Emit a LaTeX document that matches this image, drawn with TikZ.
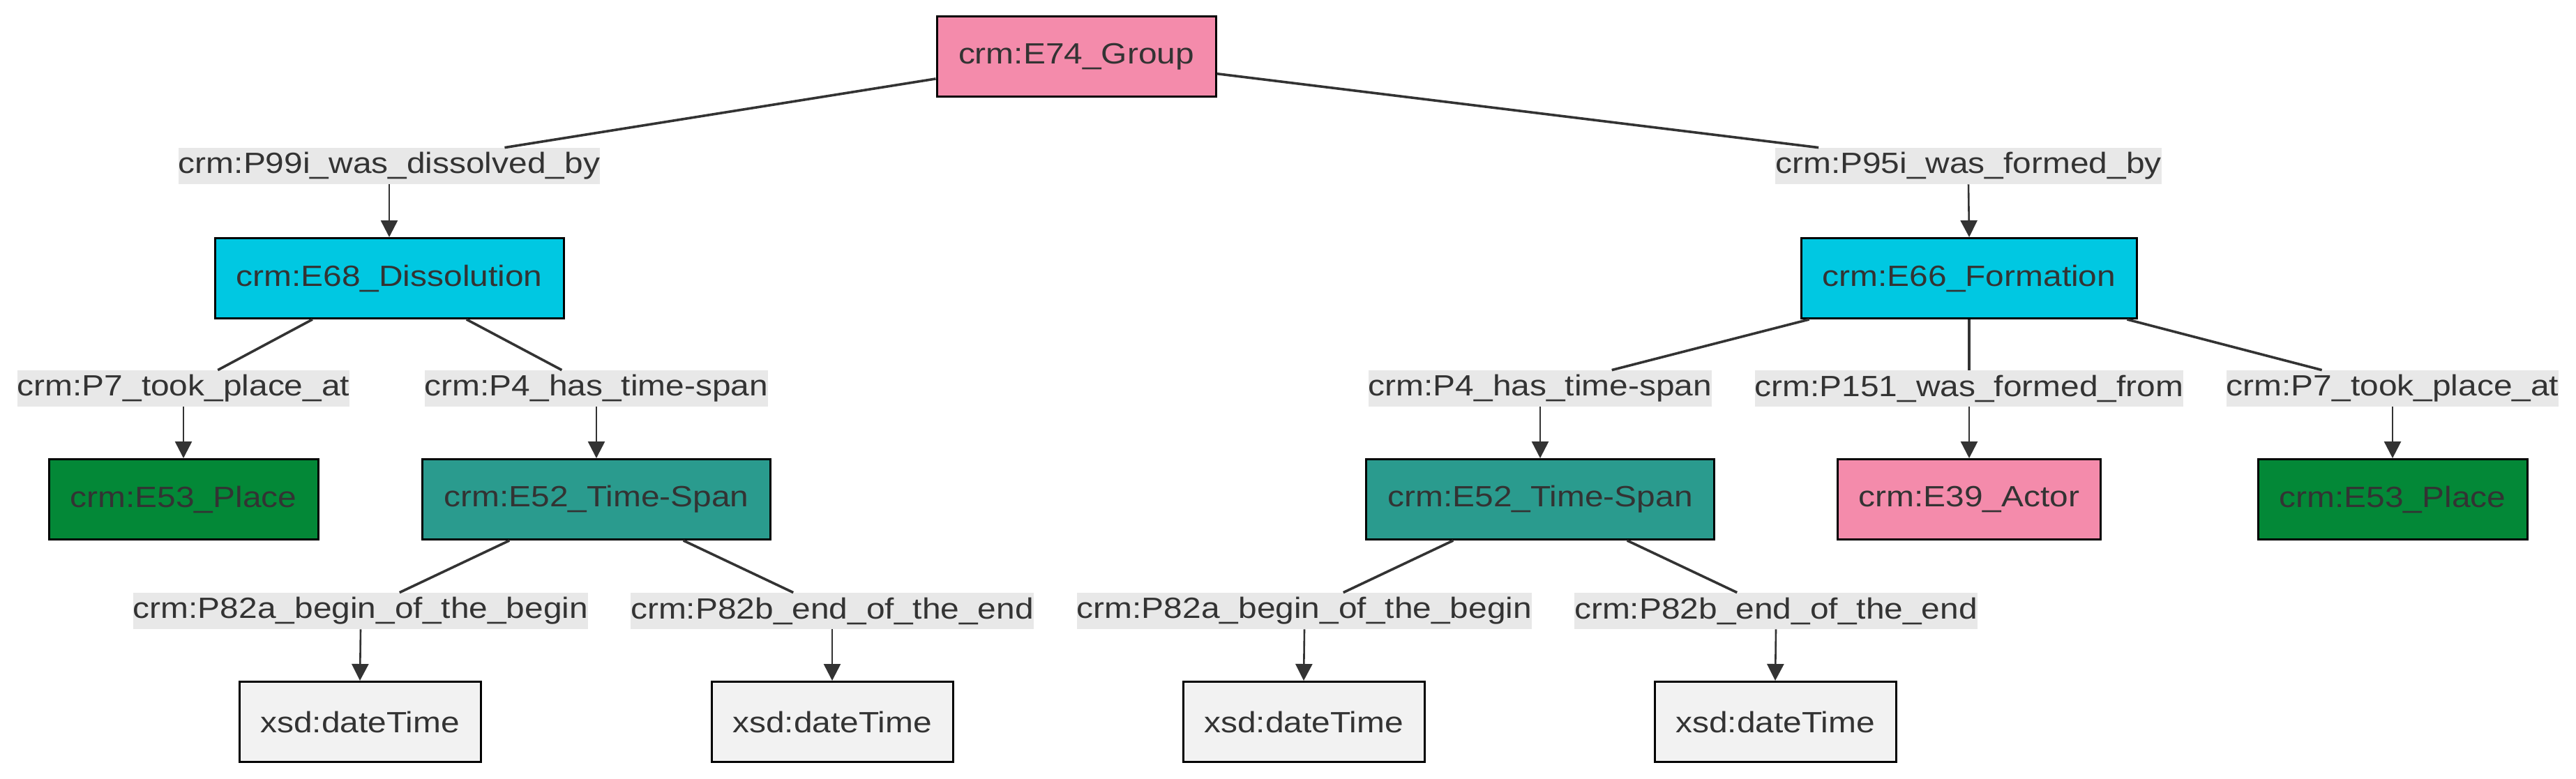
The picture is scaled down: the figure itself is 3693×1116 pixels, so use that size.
\documentclass[tikz,border=0pt]{standalone}
\usepackage{fontspec}
\setmainfont[FakeStretch=1.14]{Liberation Sans}
\usetikzlibrary{arrows.meta}
\definecolor{txt}{HTML}{333333}
\definecolor{pinkc}{HTML}{F48BAB}
\definecolor{cyanc}{HTML}{00C8E2}
\definecolor{tealc}{HTML}{2A9B8E}
\definecolor{greenc}{HTML}{038837}
\definecolor{greyc}{HTML}{F2F2F2}
\definecolor{lblc}{HTML}{E8E8E8}
\tikzset{
  box/.style={draw=black, line width=1.5pt, text=txt, minimum height=57.5pt, inner sep=0pt,
    font=\fontsize{21pt}{25pt}\selectfont},
  lbl/.style={fill=lblc, text=txt, inner sep=0pt, minimum height=26pt,
    font=\fontsize{21pt}{25pt}\selectfont},
  edge/.style={draw=txt, line width=1.8pt},
  arr/.style={draw=txt, line width=1.3pt, -{Triangle[length=12pt,width=12pt]}},
}
\begin{document}
\begin{tikzpicture}[x=0.5pt,y=-0.5pt]
\useasboundingbox (0,0) rectangle (3693,1116);
% nodes
\node[box, fill=pinkc, minimum width=200pt] (g) at (1543,81) {crm:E74\_Group};
\node[box, fill=cyanc, minimum width=250pt] (d) at (558,399) {crm:E68\_Dissolution};
\node[box, fill=cyanc, minimum width=240.5pt] (f) at (2823,399) {crm:E66\_Formation};
\node[box, fill=greenc, minimum width=193pt] (pl1) at (263,716) {crm:E53\_Place};
\node[box, fill=tealc, minimum width=249.5pt] (ts1) at (855,716) {crm:E52\_Time-Span};
\node[box, fill=tealc, minimum width=249.5pt] (ts2) at (2208,716) {crm:E52\_Time-Span};
\node[box, fill=pinkc, minimum width=188.5pt] (act) at (2823,716) {crm:E39\_Actor};
\node[box, fill=greenc, minimum width=193pt] (pl2) at (3430,716) {crm:E53\_Place};
\node[box, fill=greyc, minimum width=173pt] (x1) at (516,1035) {xsd:dateTime};
\node[box, fill=greyc, minimum width=173pt] (x2) at (1193,1035) {xsd:dateTime};
\node[box, fill=greyc, minimum width=173pt] (x3) at (1869,1035) {xsd:dateTime};
\node[box, fill=greyc, minimum width=173pt] (x4) at (2545,1035) {xsd:dateTime};
% labels
\node[lbl] (l1) at (558,238) {crm:P99i\_was\_dissolved\_by};
\node[lbl] (l2) at (2822,238) {crm:P95i\_was\_formed\_by};
\node[lbl] (l3) at (263,557) {crm:P7\_took\_place\_at};
\node[lbl] (l4) at (855,557) {crm:P4\_has\_time-span};
\node[lbl] (l5) at (517,876) {crm:P82a\_begin\_of\_the\_begin};
\node[lbl] (l6) at (1193,876) {crm:P82b\_end\_of\_the\_end};
\node[lbl] (l7) at (2208,557) {crm:P4\_has\_time-span};
\node[lbl] (l8) at (2823,557) {crm:P151\_was\_formed\_from};
\node[lbl] (l9) at (3430,557) {crm:P7\_took\_place\_at};
\node[lbl] (l10) at (1870,876) {crm:P82a\_begin\_of\_the\_begin};
\node[lbl] (l11) at (2546,876) {crm:P82b\_end\_of\_the\_end};
% edges: source to label
\draw[edge] (g) -- (l1);
\draw[edge] (g) -- (l2);
\draw[edge] (d) -- (l3);
\draw[edge] (d) -- (l4);
\draw[edge] (ts1) -- (l5);
\draw[edge] (ts1) -- (l6);
\draw[edge] (f) -- (l7);
\draw[edge] (f) -- (l8);
\draw[edge] (f) -- (l9);
\draw[edge] (ts2) -- (l10);
\draw[edge] (ts2) -- (l11);
% label to target
\draw[arr] (l1.south) -- (d.north);
\draw[arr] (l2.south) -- (f.north);
\draw[arr] (l3.south) -- (pl1.north);
\draw[arr] (l4.south) -- (ts1.north);
\draw[arr] (l5.south) -- (x1.north);
\draw[arr] (l6.south) -- (x2.north);
\draw[arr] (l7.south) -- (ts2.north);
\draw[arr] (l8.south) -- (act.north);
\draw[arr] (l9.south) -- (pl2.north);
\draw[arr] (l10.south) -- (x3.north);
\draw[arr] (l11.south) -- (x4.north);
\end{tikzpicture}
\end{document}
